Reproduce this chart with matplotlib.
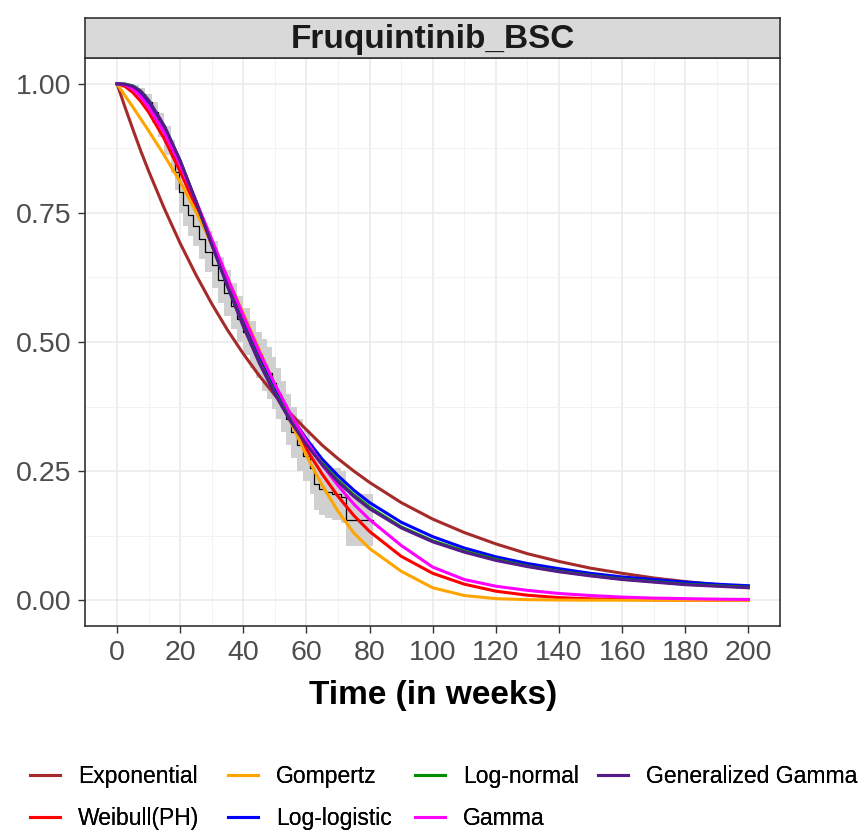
"""
KM + parametric survival fits, Fruquintinib_BSC
"""
import matplotlib
matplotlib.use('Agg')
import matplotlib.pyplot as plt
from matplotlib.ticker import MultipleLocator

plt.rcParams['font.family'] = ['Liberation Sans', 'DejaVu Sans']

# Kaplan-Meier steps with confidence band
km_time = [0, 3, 5, 7, 9, 11, 13, 15, 17, 18.5, 19.5, 21, 22.5, 24, 26, 28, 30, 32, 34, 36,
           38, 40, 42, 44, 46, 47.5, 49, 50.5, 52, 53.5, 55, 57, 59, 61, 62.5, 64, 66, 68, 71,
           72.5, 81]
km_surv = [1.0, 0.995, 0.99, 0.98, 0.965, 0.945, 0.92, 0.89, 0.86, 0.83, 0.79, 0.765, 0.745,
           0.725, 0.70, 0.675, 0.65, 0.62, 0.595, 0.57, 0.545, 0.52, 0.495, 0.475, 0.455, 0.44,
           0.42, 0.40, 0.375, 0.35, 0.325, 0.30, 0.28, 0.255, 0.225, 0.215, 0.21, 0.205, 0.20,
           0.155, 0.155]
km_lower = [1.0, 0.99, 0.982, 0.968, 0.949, 0.925, 0.896, 0.862, 0.828, 0.795, 0.75, 0.725,
            0.705, 0.685, 0.66, 0.635, 0.605, 0.575, 0.55, 0.525, 0.50, 0.475, 0.45, 0.43, 0.405,
            0.39, 0.37, 0.35, 0.325, 0.30, 0.275, 0.25, 0.23, 0.205, 0.175, 0.165, 0.16, 0.155,
            0.15, 0.105, 0.105]
km_upper = [1.0, 1.0, 0.998, 0.992, 0.981, 0.965, 0.944, 0.918, 0.892, 0.865, 0.83, 0.805,
            0.785, 0.765, 0.74, 0.715, 0.695, 0.665, 0.64, 0.615, 0.59, 0.565, 0.54, 0.52, 0.505,
            0.49, 0.47, 0.45, 0.425, 0.40, 0.375, 0.35, 0.33, 0.305, 0.275, 0.265, 0.26, 0.255,
            0.25, 0.205, 0.205]

# fitted curves, sampled at these weeks
weeks = [0, 2.5, 5, 7.5, 10, 15, 20, 25, 30, 35, 40, 45, 50, 55, 60, 65, 70, 75, 80,
         90, 100, 110, 120, 130, 140, 150, 160, 170, 180, 190, 200]
exponential = [1.0, 0.955, 0.912, 0.870, 0.831, 0.758, 0.691, 0.630, 0.574, 0.523, 0.477, 0.435,
               0.397, 0.361, 0.330, 0.300, 0.274, 0.250, 0.228, 0.189, 0.157, 0.131, 0.109, 0.090,
               0.075, 0.062, 0.052, 0.043, 0.036, 0.030, 0.025]
weibull = [1.0, 0.995, 0.983, 0.966, 0.945, 0.893, 0.830, 0.761, 0.688, 0.615, 0.542, 0.472,
           0.407, 0.347, 0.292, 0.244, 0.201, 0.164, 0.133, 0.085, 0.052, 0.031, 0.0174, 0.0096,
           0.005, 0.0026, 0.0013, 0.0006, 0.0003, 0.0001, 0.0001]
gompertz = [1.0, 0.977, 0.955, 0.932, 0.909, 0.861, 0.810, 0.752, 0.690, 0.624, 0.555, 0.486,
            0.415, 0.345, 0.280, 0.222, 0.172, 0.130, 0.100, 0.056, 0.024, 0.009, 0.003, 0.001,
            0.0003, 0.0, 0.0, 0.0, 0.0, 0.0, 0.0]
log_logistic = [1.0, 0.9985, 0.993, 0.982, 0.965, 0.916, 0.850, 0.772, 0.690, 0.610, 0.535, 0.467,
                0.408, 0.356, 0.312, 0.273, 0.241, 0.213, 0.189, 0.151, 0.123, 0.101, 0.084, 0.071,
                0.061, 0.052, 0.045, 0.040, 0.035, 0.031, 0.028]
log_normal = [1.0, 0.9995, 0.996, 0.986, 0.968, 0.917, 0.850, 0.772, 0.690, 0.609, 0.532, 0.463,
              0.402, 0.349, 0.304, 0.265, 0.232, 0.204, 0.180, 0.142, 0.115, 0.095, 0.079, 0.066,
              0.056, 0.048, 0.041, 0.036, 0.031, 0.028, 0.025]
gamma = [1.0, 0.998, 0.990, 0.975, 0.955, 0.905, 0.843, 0.773, 0.699, 0.624, 0.551, 0.482, 0.418,
         0.360, 0.308, 0.262, 0.222, 0.186, 0.156, 0.106, 0.064, 0.040, 0.027, 0.019, 0.013,
         0.009, 0.006, 0.004, 0.003, 0.002, 0.0015]
gen_gamma = [1.0, 0.999, 0.995, 0.985, 0.968, 0.918, 0.851, 0.772, 0.689, 0.607, 0.530, 0.460,
             0.399, 0.346, 0.301, 0.262, 0.229, 0.201, 0.177, 0.140, 0.113, 0.093, 0.077, 0.065,
             0.055, 0.047, 0.040, 0.035, 0.030, 0.027, 0.024]

models = [('Exponential', exponential, '#A52A2A'),
          ('Weibull(PH)', weibull, '#FF0000'),
          ('Gompertz', gompertz, '#FFA500'),
          ('Log-logistic', log_logistic, '#0000FF'),
          ('Log-normal', log_normal, '#008B00'),
          ('Gamma', gamma, '#FF00FF'),
          ('Generalized Gamma', gen_gamma, '#551A8B')]

fig = plt.figure(figsize=(8.68, 8.34), dpi=100)
ax = fig.add_axes([0.0985, 0.2494, 0.8001, 0.6811])

# KM + band
ax.fill_between(km_time, km_lower, km_upper, step='post', color='#D0D0D0', lw=0, zorder=2)
ax.step(km_time, km_surv, where='post', color='black', lw=0.9, zorder=3)

for name, vals, col in models:
    ax.plot(weeks, vals, color=col, lw=2.2, label=name, zorder=4)

ax.set_xlim(-10, 210)
ax.set_ylim(-0.05, 1.05)
ax.xaxis.set_major_locator(MultipleLocator(20))
ax.xaxis.set_minor_locator(MultipleLocator(10))
ax.yaxis.set_minor_locator(MultipleLocator(0.125))
ax.set_yticks([0, 0.25, 0.5, 0.75, 1.0])
ax.set_yticklabels(['0.00', '0.25', '0.50', '0.75', '1.00'])
ax.grid(which='major', color='#EBEBEB', lw=1.2, zorder=0)
ax.grid(which='minor', color='#F2F2F2', lw=0.7, zorder=0)
ax.set_axisbelow(True)
ax.tick_params(which='major', length=5, width=1, color='#333333', labelsize=20.5,
               labelcolor='#4D4D4D', pad=5)
ax.tick_params(which='minor', length=0)
for sp in ax.spines.values():
    sp.set_color('#333333')
    sp.set_linewidth(1.2)
ax.set_xlabel('Time (in weeks)', fontsize=24, fontweight='bold', labelpad=10)

# facet strip
strip = fig.add_axes([0.0985, 0.9305, 0.8001, 0.048])
strip.set_facecolor('#D9D9D9')
strip.set_xticks([])
strip.set_yticks([])
for sp in strip.spines.values():
    sp.set_color('#333333')
    sp.set_linewidth(1.2)
strip.text(0.5, 0.46, 'Fruquintinib_BSC', ha='center', va='center', fontsize=24,
           fontweight='bold', color='#1A1A1A', transform=strip.transAxes)

# legend: one block per column, as ggplot lays it out
handles, labels = ax.get_legend_handles_labels()
col_x = [30, 228, 415, 598]
for i, x in enumerate(col_x):
    leg = fig.legend(handles[2 * i:2 * i + 2], labels[2 * i:2 * i + 2], loc='upper left',
                     bbox_to_anchor=(x / 868, 0.083), frameon=False, fontsize=16.5,
                     handlelength=1.31, handletextpad=0.79, labelspacing=0.82, borderpad=0,
                     borderaxespad=0)
    fig.add_artist(leg)

plt.savefig('out.png', dpi=100)
